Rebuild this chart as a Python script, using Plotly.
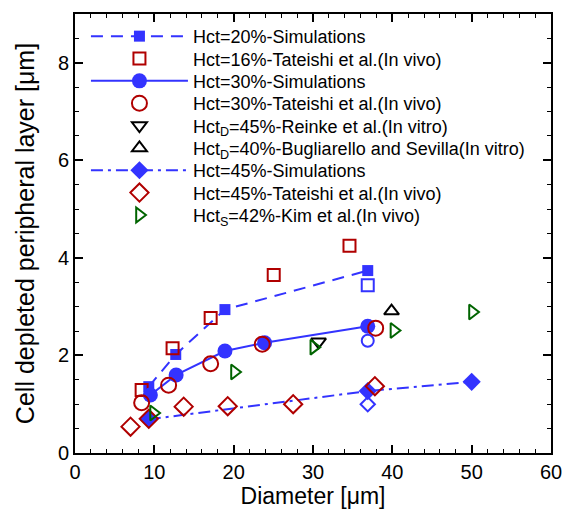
import plotly.graph_objects as go

# ---- data ----
sim20_x = [9.3, 12.7, 18.9, 36.9]
sim20_y = [1.36, 2.02, 2.94, 3.74]
tat16_x = [8.4, 12.3, 17.1, 25.05, 34.6]
tat16_y = [1.29, 2.15, 2.77, 3.65, 4.25]
sim30_x = [9.5, 12.75, 18.9, 23.9, 36.9]
sim30_y = [1.19, 1.60, 2.09, 2.26, 2.60]
tat30_x = [8.4, 11.8, 17.1, 23.6, 37.9]
tat30_y = [1.03, 1.39, 1.83, 2.23, 2.56]
reinke_x = [30.7]
reinke_y = [2.28]
bug_x = [39.9]
bug_y = [2.91]
sim45_x = [9.3, 36.9, 50.0]
sim45_y = [0.69, 1.27, 1.46]
tat45_x = [7.0, 9.3, 13.7, 19.25, 27.5, 37.8]
tat45_y = [0.54, 0.70, 0.95, 0.96, 1.0, 1.37]
kim_x = [9.9, 20.1, 30.1, 40.2, 50.1]
kim_y = [0.82, 1.66, 2.17, 2.51, 2.89]
# open blue markers (no legend entry)
open_sq_x, open_sq_y = [36.9], [3.44]
open_ci_x, open_ci_y = [36.9], [2.30]
open_di_x, open_di_y = [36.9], [1.00]

BLUE = "rgb(51,51,255)"
RED = "rgb(176,0,0)"
GREEN = "rgb(0,100,0)"
BLACK = "black"
FONT = "Liberation Sans, Arial, sans-serif"

fig = go.Figure()
legend_count = [0]

def add(x, y, name, mode, symbol, color, size, dash=None, show=True, open_=False):
    marker = dict(symbol=symbol, color=color, size=size)
    if open_:
        marker["line"] = dict(color=color, width=2)
    else:
        marker["line"] = dict(color=color, width=0)
    kw = dict(x=x, y=y, name=name, mode=mode, marker=marker, showlegend=show)
    if "lines" in mode:
        kw["line"] = dict(color=color, width=2, dash=dash)
    if show:
        legend_count[0] += 1
        i = legend_count[0]
        kw["legend"] = "legend" if i == 1 else f"legend{i}"
    fig.add_trace(go.Scatter(**kw))

add(sim20_x, sim20_y, "Hct=20%-Simulations", "lines+markers", "square", BLUE, 11, dash="12px,8px")
add(tat16_x, tat16_y, "Hct=16%-Tateishi et al.(In vivo)", "markers", "square-open", RED, 12, open_=True)
add(sim30_x, sim30_y, "Hct=30%-Simulations", "lines+markers", "circle", BLUE, 15, dash="solid")
add(tat30_x, tat30_y, "Hct=30%-Tateishi et al.(In vivo)", "markers", "circle-open", RED, 15, open_=True)
add(reinke_x, reinke_y, "Hct<sub>D</sub>=45%-Reinke et al.(In vitro)", "markers", "triangle-down-open", BLACK, 13, open_=True)
add(bug_x, bug_y, "Hct<sub>D</sub>=40%-Bugliarello and Sevilla(In vitro)", "markers", "triangle-up-open", BLACK, 13, open_=True)
add(sim45_x, sim45_y, "Hct=45%-Simulations", "lines+markers", "diamond", BLUE, 14, dash="12px,5px,3px,5px")
add(tat45_x, tat45_y, "Hct=45%-Tateishi et al.(In vivo)", "markers", "diamond-open", RED, 14, open_=True)
add(kim_x, kim_y, "Hct<sub>S</sub>=42%-Kim et al.(In vivo)", "markers", "triangle-right-open", GREEN, 13, open_=True)
add(open_sq_x, open_sq_y, "open sq", "markers", "square-open", BLUE, 12, show=False, open_=True)
add(open_ci_x, open_ci_y, "open ci", "markers", "circle-open", BLUE, 12, show=False, open_=True)
add(open_di_x, open_di_y, "open di", "markers", "diamond-open", BLUE, 11, show=False, open_=True)

axis_common = dict(
    showline=True, linecolor="black", linewidth=2, mirror="ticks",
    ticks="inside", ticklen=8, tickwidth=2, tickcolor="black",
    showgrid=False, zeroline=False,
    tickfont=dict(family=FONT, size=20, color="black"),
)

fig.update_xaxes(range=[0, 60], dtick=10, tick0=0,
                 minor=dict(dtick=2, ticks="inside", ticklen=4, tickwidth=1, tickcolor="black"),
                 title=dict(text="Diameter [μm]", font=dict(family=FONT, size=23, color="black"), standoff=6),
                 **axis_common)
fig.update_yaxes(range=[0, 9], dtick=2, tick0=0,
                 minor=dict(dtick=0.5, ticks="inside", ticklen=4, tickwidth=1, tickcolor="black"),
                 title=dict(text="Cell depleted peripheral layer [μm]", font=dict(family=FONT, size=25, color="black"), standoff=16),
                 **axis_common)

M_T, M_B = 13, 65
PLOT_H = 518 - M_T - M_B
legend_layout = {}
for i in range(legend_count[0]):
    center_px = 35.5 + 22.4 * i
    ypaper = 1 - (center_px - M_T) / PLOT_H
    key = "legend" if i == 0 else f"legend{i + 1}"
    legend_layout[key] = dict(
        x=0.023, y=ypaper, xanchor="left", yanchor="middle",
        bgcolor="rgba(0,0,0,0)", itemwidth=97,
        font=dict(family=FONT, size=18, color="black"),
    )

fig.update_layout(
    width=574, height=518,
    margin=dict(l=75, r=16, t=M_T, b=M_B),
    paper_bgcolor="white", plot_bgcolor="white",
    **legend_layout,
)

fig.write_html("out.html")
